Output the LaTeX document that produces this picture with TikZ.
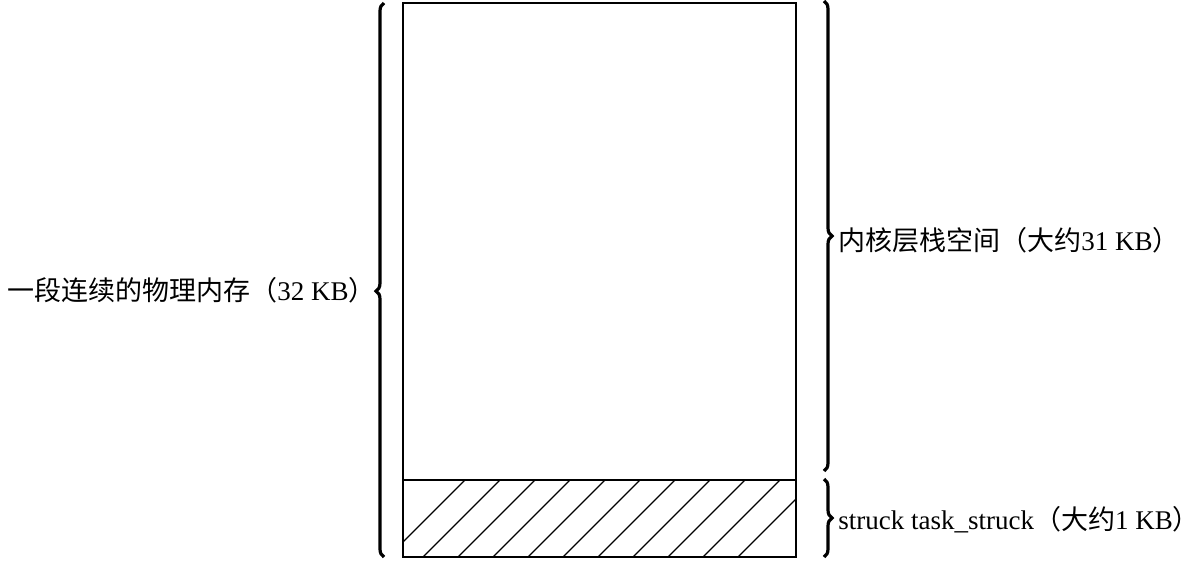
\documentclass[tikz,border=0pt]{standalone}
\usepackage{fontspec}
\setmainfont{Liberation Serif}
\newfontfamily\cjk{Noto Sans CJK SC}
\usetikzlibrary{decorations.pathreplacing,positioning}

\begin{document}
\begin{tikzpicture}[x=0.5pt,y=-0.5pt,
  mem/.style={draw,line width=0.75pt},
  hatchline/.style={line width=0.6pt},
  membrace/.style={decorate,decoration={brace,amplitude=4pt,aspect=#1},line width=1.6pt},
  membrace/.default=0.5,
  lbl/.style={font=\fontsize{13.5}{16}\selectfont,inner sep=0pt}]
\useasboundingbox (0,0) rectangle (1200,562);
\coordinate (topL) at (403,3); \coordinate (botR) at (796,557);
\coordinate (divL) at (403,480); \coordinate (divR) at (796,480);
\draw[mem] (topL) rectangle (botR);
\draw[mem] (divL) -- (divR);
% hatched task_struct part
\begin{scope}
\clip (divL) rectangle (botR);
\foreach \x in {388,423,...,738} \draw[hatchline] (\x,557) -- ++(80,-80);
\end{scope}
% braces
\coordinate (lbBot) at (384,557); \coordinate (lbTop) at (384,3);
\coordinate (rbTop) at (824,1); \coordinate (rbBot) at (824,471);
\coordinate (sbTop) at (824,479); \coordinate (sbBot) at (824,557);
\draw[membrace=0.48] (lbBot) -- (lbTop);
\draw[membrace] (rbTop) -- (rbBot);
\draw[membrace] (sbTop) -- (sbBot);
\node[lbl,anchor=east] (lblMem) at (376,290) {{\cjk 一段连续的物理内存（}32 KB{\cjk ）}};
\node[lbl,anchor=west] (lblStack) at (838,240) {{\cjk 内核层栈空间（大约}31 KB{\cjk ）}};
\node[lbl,anchor=west] (lblTask) at (838,520) {struck task\_struck{\cjk （大约}1 KB{\cjk ）}};
\end{tikzpicture}
\end{document}
